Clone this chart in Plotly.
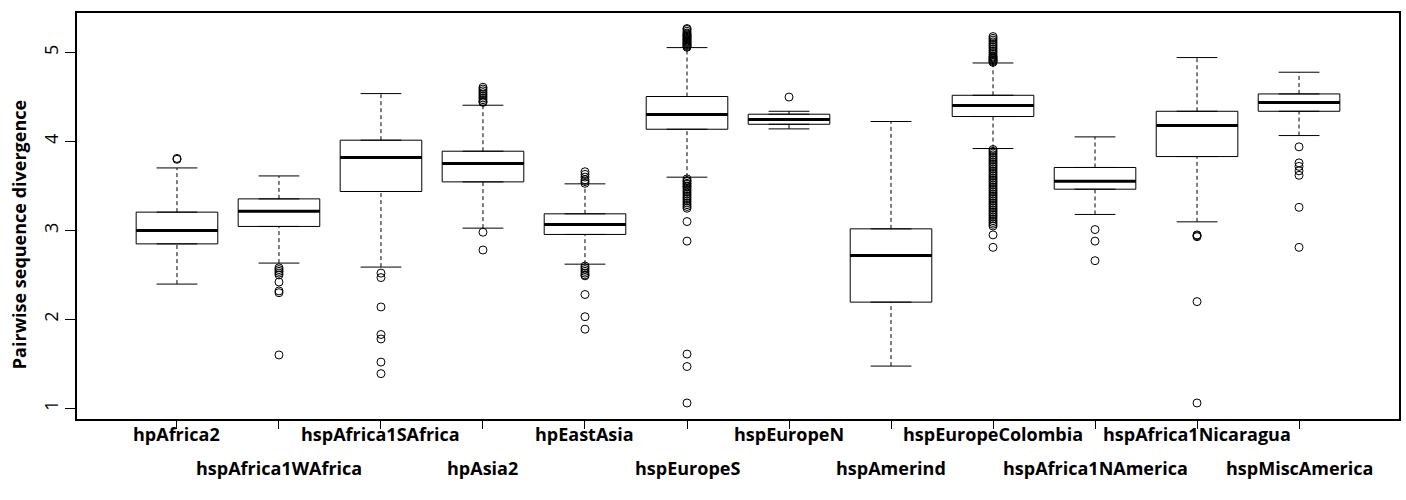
import plotly.graph_objects as go

categories = ["hpAfrica2", "hspAfrica1WAfrica", "hspAfrica1SAfrica", "hpAsia2",
              "hpEastAsia", "hspEuropeS", "hspEuropeN", "hspAmerind",
              "hspEuropeColombia", "hspAfrica1NAmerica", "hspAfrica1Nicaragua", "hspMiscAmerica"]
q1 = [2.849, 3.045, 3.438, 3.546, 2.955, 4.138, 4.194, 2.194, 4.281, 3.464, 3.831, 4.340]
median = [3.000, 3.217, 3.820, 3.753, 3.067, 4.303, 4.247, 2.719, 4.404, 3.554, 4.180, 4.438]
q3 = [3.206, 3.355, 4.015, 3.891, 3.187, 4.506, 4.307, 3.018, 4.520, 3.708, 4.340, 4.535]
whisker_low = [2.397, 2.633, 2.588, 3.026, 2.621, 3.599, 4.142, 1.475, 3.921, 3.180, 3.097, 4.067]
whisker_high = [3.703, 3.613, 4.539, 4.408, 3.524, 5.056, 4.340, 4.225, 4.883, 4.052, 4.944, 4.779]

out_hpAfrica2 = [3.81, 3.80]
out_hspAfrica1WAfrica = [2.58, 2.56, 2.54, 2.52, 2.50, 2.42, 2.32, 2.30, 1.60]
out_hspAfrica1SAfrica = [2.52, 2.47, 2.14, 1.83, 1.78, 1.52, 1.39]
out_hpAsia2 = [4.44, 4.45, 4.47, 4.49, 4.51, 4.53, 4.55, 4.57, 4.59, 4.61, 2.98, 2.78]
out_hpEastAsia = [3.53, 3.55, 3.57, 3.60, 3.63, 3.66, 2.60, 2.58, 2.56, 2.54, 2.52,
                  2.50, 2.49, 2.28, 2.03, 1.89]
out_hspEuropeS = [5.06, 5.07, 5.08, 5.09, 5.10, 5.11, 5.12, 5.13, 5.14, 5.15, 5.16,
                  5.17, 5.18, 5.19, 5.20, 5.21, 5.22, 5.24, 5.26, 5.27,
                  3.58, 3.56, 3.55, 3.53, 3.52, 3.50, 3.49, 3.47, 3.45, 3.43, 3.41,
                  3.39, 3.37, 3.35, 3.33, 3.31, 3.29, 3.27, 3.25, 3.10, 2.88,
                  1.61, 1.47, 1.06]
out_hspEuropeN = [4.50]
out_hspAmerind = []
out_hspEuropeColombia = [4.89, 4.90, 4.91, 4.92, 4.93, 4.94, 4.95, 4.96, 4.98, 5.00,
                         5.02, 5.04, 5.06, 5.08, 5.10, 5.12, 5.14, 5.16, 5.18,
                         3.91, 3.89, 3.87, 3.85, 3.83, 3.81, 3.79, 3.77, 3.75, 3.73,
                         3.71, 3.69, 3.67, 3.65, 3.63, 3.61, 3.59, 3.57, 3.55, 3.53,
                         3.51, 3.49, 3.47, 3.45, 3.43, 3.41, 3.39, 3.37, 3.35, 3.33,
                         3.31, 3.29, 3.27, 3.25, 3.23, 3.21, 3.19, 3.17, 3.15, 3.13,
                         3.11, 3.09, 3.07, 3.05, 2.95, 2.81]
out_hspAfrica1NAmerica = [3.01, 2.88, 2.66]
out_hspAfrica1Nicaragua = [2.95, 2.94, 2.93, 2.20, 1.06]
out_hspMiscAmerica = [3.94, 3.76, 3.72, 3.67, 3.62, 3.26, 2.81]

outliers = [out_hpAfrica2, out_hspAfrica1WAfrica, out_hspAfrica1SAfrica, out_hpAsia2,
            out_hpEastAsia, out_hspEuropeS, out_hspEuropeN, out_hspAmerind,
            out_hspEuropeColombia, out_hspAfrica1NAmerica, out_hspAfrica1Nicaragua,
            out_hspMiscAmerica]

positions = list(range(1, len(categories) + 1))
BOX_HALF = 0.4
CAP_HALF = 0.2

fig = go.Figure()

# boxes (whiskers drawn separately as dashed R-style lines)
fig.add_trace(go.Box(
    x=positions, q1=q1, median=median, q3=q3,
    lowerfence=q1, upperfence=q3,
    width=2 * BOX_HALF, boxpoints=False,
    fillcolor="white", line=dict(color="black", width=1),
    hoverinfo="skip", showlegend=False,
))

# dashed whiskers
wx, wy = [], []
for p, lo, a, b, hi in zip(positions, whisker_low, q1, q3, whisker_high):
    wx += [p, p, None, p, p, None]
    wy += [lo, a, None, b, hi, None]
fig.add_trace(go.Scatter(x=wx, y=wy, mode="lines",
                         line=dict(color="black", width=1, dash="4px,3px"),
                         hoverinfo="skip", showlegend=False))

# whisker caps
cx, cy = [], []
for p, lo, hi in zip(positions, whisker_low, whisker_high):
    cx += [p - CAP_HALF, p + CAP_HALF, None, p - CAP_HALF, p + CAP_HALF, None]
    cy += [lo, lo, None, hi, hi, None]
fig.add_trace(go.Scatter(x=cx, y=cy, mode="lines",
                         line=dict(color="black", width=1),
                         hoverinfo="skip", showlegend=False))

# thick medians
mx, my = [], []
for p, m in zip(positions, median):
    mx += [p - BOX_HALF, p + BOX_HALF, None]
    my += [m, m, None]
fig.add_trace(go.Scatter(x=mx, y=my, mode="lines",
                         line=dict(color="black", width=3),
                         hoverinfo="skip", showlegend=False))

# outliers
ox, oy = [], []
for p, vals in zip(positions, outliers):
    ox += [p] * len(vals)
    oy += vals
fig.add_trace(go.Scatter(x=ox, y=oy, mode="markers",
                         marker=dict(symbol="circle-open", size=8, color="black",
                                     line=dict(width=1, color="black")),
                         hoverinfo="skip", showlegend=False))

# staggered category labels
for i, (p, name) in enumerate(zip(positions, categories)):
    fig.add_annotation(x=p, y=0, xref="x", yref="paper", text=f"<b>{name}</b>",
                       showarrow=False, xanchor="center", yanchor="middle",
                       yshift=-15 if i % 2 == 0 else -49,
                       font=dict(family="Open Sans", size=18, color="black"))

fig.add_annotation(x=-0.0438, y=0.453, xref="paper", yref="paper",
                   text="<b>Pairwise sequence divergence</b>", textangle=-90,
                   showarrow=False, xanchor="center", yanchor="middle",
                   font=dict(family="Open Sans", size=18, color="black"))

fig.update_layout(
    width=1406, height=500,
    margin=dict(l=77, r=5, t=13, b=81),
    plot_bgcolor="white", paper_bgcolor="white",
    showlegend=False,
    xaxis=dict(range=[0.02, 12.98], tickvals=positions, ticktext=[""] * len(positions),
               ticks="outside", ticklen=8, tickcolor="black", tickwidth=1,
               showgrid=False, zeroline=False, showline=True, mirror=True,
               linecolor="black", linewidth=1.5),
    yaxis=dict(range=[0.88, 5.445], tickvals=[1, 2, 3, 4, 5],
               ticks="outside", ticklen=10, tickcolor="black", tickwidth=1,
               tickangle=-90, tickfont=dict(family="Open Sans", size=18, color="black"),
               showgrid=False, zeroline=False, showline=True, mirror=True,
               linecolor="black", linewidth=1.5),
)

fig.write_html("out.html", config={"displayModeBar": False},
               post_script="document.body.style.margin='0';document.body.style.overflow='hidden';")
